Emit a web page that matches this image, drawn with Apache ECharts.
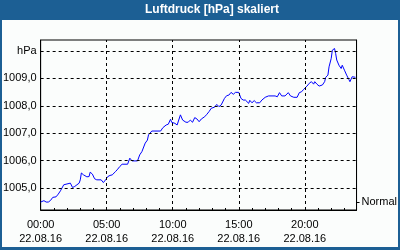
<!DOCTYPE html>
<html><head><meta charset="utf-8">
<script src="https://cdn.jsdelivr.net/npm/echarts@6/dist/echarts.min.js"></script>
<style>html,body{margin:0;padding:0;background:#fff}#c{width:400px;height:250px}</style>
</head><body><div id="c"></div>
<script>
const titleText = "Luftdruck [hPa] skaliert";
const times = ["00:00","00:15","00:25","00:35","00:45","00:55","01:10","01:20","01:30","01:45","01:50","02:15","02:25","02:35","02:45","02:55","03:00","03:05","03:15","03:30","03:40","03:45","03:55","04:05","04:15","04:35","04:45","04:55","05:05","05:15","05:25","05:40","05:50","06:00","06:10","06:35","06:45","06:55","07:20","07:30","07:40","07:55","08:05","08:10","08:25","09:05","09:15","09:30","09:40","09:50","09:55","10:10","10:20","10:35","10:45","11:00","11:10","11:20","11:30","11:40","11:50","12:00","12:10","12:25","12:35","12:45","12:55","13:10","13:20","13:30","13:40","13:55","14:05","14:15","14:25","14:35","14:45","15:00","15:10","15:20","15:30","15:45","15:50","16:00","16:10","16:20","16:35","16:45","17:00","17:15","17:45","17:55","18:05","18:15","18:30","18:45","18:55","19:10","19:25","19:35","19:45","19:55","20:10","20:20","20:30","20:40","20:45","20:55","21:05","21:20","21:30","21:35","21:45","21:50","22:00","22:05","22:15","22:20","22:25","22:35","22:45","22:50","23:00","23:10","23:20","23:25","23:35","23:40","23:50"];
const values = [1004.49,1004.54,1004.49,1004.49,1004.55,1004.66,1004.68,1004.78,1004.90,1005.12,1005.18,1005.18,1005.02,1005.06,1005.12,1005.18,1005.30,1005.55,1005.48,1005.41,1005.42,1005.58,1005.51,1005.34,1005.30,1005.30,1005.20,1005.30,1005.42,1005.46,1005.48,1005.60,1005.69,1005.79,1005.87,1005.87,1006.09,1005.99,1005.99,1006.21,1006.33,1006.64,1006.75,1006.94,1007.08,1007.08,1007.20,1007.30,1007.33,1007.51,1007.40,1007.36,1007.30,1007.67,1007.48,1007.40,1007.40,1007.48,1007.40,1007.57,1007.52,1007.42,1007.52,1007.60,1007.69,1007.79,1007.91,1007.95,1008.05,1007.97,1008.03,1008.27,1008.37,1008.39,1008.49,1008.42,1008.49,1008.49,1008.27,1008.21,1008.21,1008.09,1008.20,1008.11,1008.19,1008.11,1008.11,1008.21,1008.31,1008.36,1008.36,1008.33,1008.48,1008.36,1008.36,1008.48,1008.36,1008.31,1008.31,1008.48,1008.51,1008.60,1008.72,1008.82,1008.88,1008.79,1008.88,1008.79,1008.72,1008.76,1008.88,1009.04,1009.12,1009.42,1009.73,1010.03,1010.09,1009.91,1009.67,1009.48,1009.36,1009.48,1009.30,1009.12,1008.96,1008.88,1009.06,1009.12,1009.04];
const xTickLabels = ["00:00","05:00","10:00","15:00","20:00"];
const dateLabel = "22.08.16";
const yTickValues = [1005,1006,1007,1008,1009,1010];
const unitLabel = "hPa";
const normalValue = 1004.5;
const normalLabel = "Normal";

const toMin = s => { const p = s.split(':'); return (+p[0])*60 + (+p[1]); };
const xGrid = xTickLabels.map(toMin);
const data = times.map((t,i) => [toMin(t), values[i]]);
const font = "Liberation Sans";

const chart = echarts.init(document.getElementById('c'), null, {renderer:'canvas'});
chart.setOption({
  animation: false,
  backgroundColor: '#1c5f94',
  graphic: [{type:'rect', z:-10, shape:{x:2,y:20,width:396,height:227}, style:{fill:'#fbfdfc'}}],
  title: {text: titleText, left: 145, top: 4, padding: 0,
    textStyle:{color:'#fff', fontSize:12, fontWeight:'bold', fontFamily:font}},
  grid: {left:40, right:40, top:40, bottom:40, show:true, borderColor:'#000', borderWidth:1, backgroundColor:'transparent'},
  xAxis: {type:'value', min:0, max:1435, interval:60,
    axisLine:{lineStyle:{color:'#000', width:1}},
    axisTick:{show:true, inside:true, length:2, lineStyle:{color:'#000'}},
    splitLine:{show:false},
    axisLabel:{color:'#000', fontSize:11, fontFamily:font, lineHeight:14, margin:8, showMaxLabel:false,
      formatter: v => { const i = xGrid.indexOf(Math.round(v)); return i>=0 ? xTickLabels[i] + '\n' + dateLabel : ''; }}
  },
  yAxis: [{type:'value', min:1004.2, max:1010.4, interval:0.2,
    axisLine:{show:true, lineStyle:{color:'#000'}},
    axisTick:{show:false}, splitLine:{show:false},
    axisLabel:{color:'#000', fontSize:11, fontFamily:font, margin:4, showMinLabel:false, showMaxLabel:false,
      formatter: v => { const r = Math.round(v); if (Math.abs(v-r) > 1e-6 || yTickValues.indexOf(r) < 0) return ''; return r === yTickValues[yTickValues.length-1] ? unitLabel : r.toFixed(1).replace('.', ','); }}
  },{type:'value', position:'right', min:1004.2, max:1010.4,
    axisLine:{show:true, lineStyle:{color:'#000'}},
    splitLine:{show:false},
    axisTick:{show:true, length:3, customValues:[normalValue], lineStyle:{color:'#000'}},
    axisLabel:{show:true, color:'#000', fontSize:11, fontFamily:font, margin:5, customValues:[normalValue], formatter: () => normalLabel}
  }],
  series: [{type:'line', data: data, showSymbol:false, symbol:'none',
    lineStyle:{color:'#0000ff', width:1}, z:3,
    markLine:{silent:true, symbol:'none', label:{show:false}, animation:false,
      lineStyle:{color:'#000', width:1, type:[3,3]},
      data: xGrid.filter(v=>v>0).map(v=>({xAxis:v})).concat(yTickValues.map(v=>({yAxis:v})))}
  }]
});
</script></body></html>
